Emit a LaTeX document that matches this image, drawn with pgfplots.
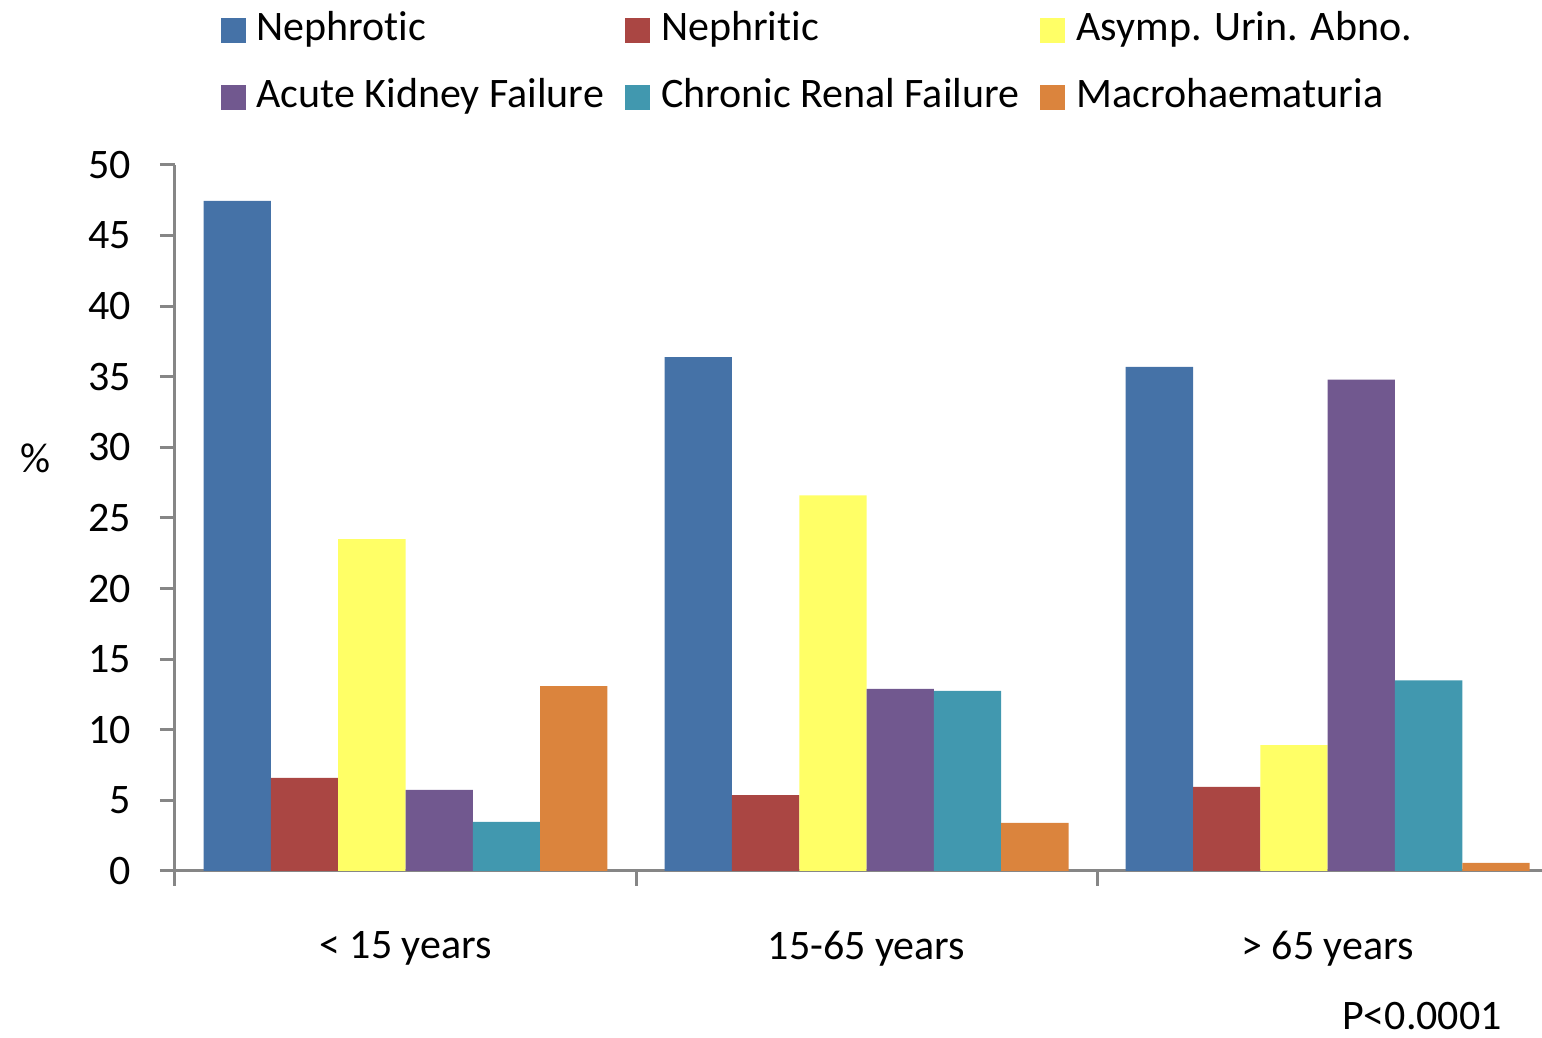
\documentclass[border=0pt]{standalone}
\usepackage{fontspec}
\setmainfont{Carlito}[Ligatures=NoCommon]
\usepackage{pgfplots}
\pgfplotsset{compat=1.18}
\definecolor{cA}{RGB}{69,114,167}
\definecolor{cB}{RGB}{170,70,67}
\definecolor{cC}{RGB}{255,255,102}
\definecolor{cD}{RGB}{113,88,143}
\definecolor{cE}{RGB}{65,152,175}
\definecolor{cF}{RGB}{219,132,61}
\definecolor{axgray}{RGB}{134,134,134}
\begin{document}
\fontsize{21}{25}\selectfont
\begin{tikzpicture}
\path[use as bounding box] (0,0) rectangle (771pt,519pt);
\begin{axis}[
  at={(87.5pt,83.5pt)}, anchor=south west,
  width=683.5pt, height=353pt, scale only axis,
  xmin=-0.5, xmax=2.465, ymin=0, ymax=50,
  clip mode=individual,
  ytick={0,5,...,50},
  /pgf/number format/assume math mode=true,
  axis x line*=bottom, axis y line*=left,
  axis line style={axgray, line width=1.5pt, -},
  tick style={axgray, line width=1.5pt},
  tick align=outside, major tick length=7.5pt,
  xtick={-0.5,0.5,1.5}, xticklabels={},
  extra x ticks={0,1,2},
  extra x tick labels={{< 15 years},{15-65 years},{> 65 years}},
  extra x tick style={major tick length=0pt},
  xticklabel style={yshift=-23pt},
  yticklabel style={xshift=-7.5pt},
  ylabel={\%},
  every axis y label/.style={at={(axis description cs:-0.1024,0.585)}, anchor=center},
  ybar, bar width=0.146,
  legend columns=3,
  legend cell align=left,
  legend image code/.code={\fill[#1] (0pt,-6.25pt) rectangle (12.5pt,6.25pt);},
  legend style={draw=none, fill=none, inner sep=0pt,
    at={(axis description cs:0.0330,1.2224)}, anchor=north west,
    nodes={inner sep=2pt, text height=14pt, text depth=4pt},
    row sep=11.5pt,
    /tikz/every odd column/.append style={column sep=3.5pt},
    /tikz/every even column/.append style={column sep=8.5pt}},
]
\addplot[draw=none, fill=cA, bar shift=-0.365] coordinates {(0,47.45) (1,36.4) (2,35.7)};
\addplot[draw=none, fill=cB, bar shift=-0.219] coordinates {(0,6.59) (1,5.38) (2,5.95)};
\addplot[draw=none, fill=cC, bar shift=-0.073] coordinates {(0,23.5) (1,26.6) (2,8.92)};
\addplot[draw=none, fill=cD, bar shift=0.073] coordinates {(0,5.74) (1,12.9) (2,34.8)};
\addplot[draw=none, fill=cE, bar shift=0.219] coordinates {(0,3.47) (1,12.75) (2,13.5)};
\addplot[draw=none, fill=cF, bar shift=0.365] coordinates {(0,13.1) (1,3.4) (2,0.57)};
\legend{Nephrotic,Nephritic,Asymp. Urin. Abno.,Acute Kidney Failure,Chronic Renal Failure,Macrohaematuria}
\end{axis}
\node[inner sep=0pt] at (711pt,11pt) {P<0.0001};
\end{tikzpicture}
\end{document}
